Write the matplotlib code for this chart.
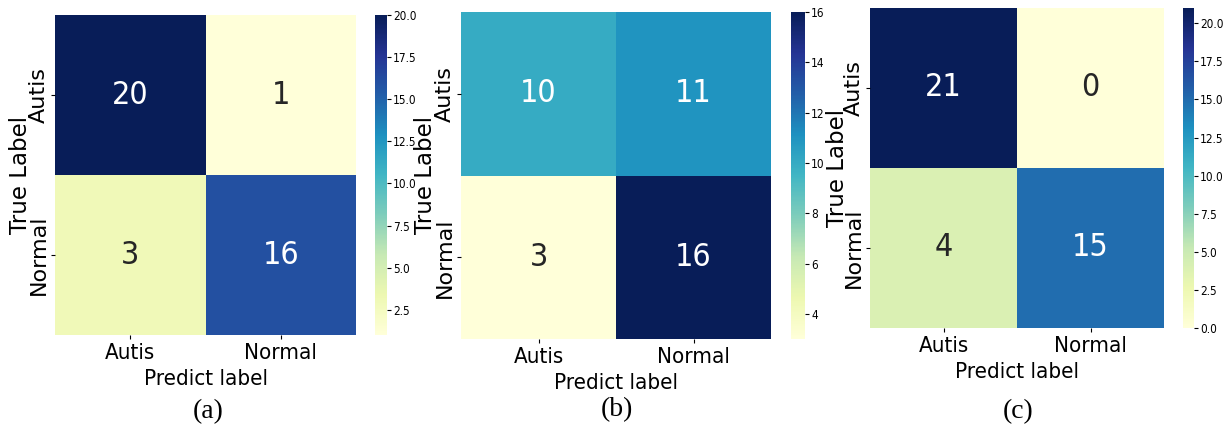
import numpy as np
import matplotlib
matplotlib.use('Agg')
import matplotlib.pyplot as plt
from matplotlib import font_manager as fm
import seaborn as sns

# confusion matrices for the three models
classes = ['Autis', 'Normal']
cm_a = [[20, 1], [3, 16]]
cm_b = [[10, 11], [3, 16]]
cm_c = [[21, 0], [4, 15]]
captions = ['(a)', '(b)', '(c)']

# the source image is squashed sideways, so look for a narrow font
cond = None
for want in ['DejaVu Sans', 'Liberation Sans Narrow', 'Roboto Condensed',
             'Open Sans Condensed']:
    for f in fm.fontManager.ttflist:
        if f.name != want or f.style != 'normal':
            continue
        if f.weight not in (400, 'normal', 'regular'):
            continue
        if want == 'DejaVu Sans' and 'condensed' not in str(f.stretch):
            continue
        cond = f.fname
        break
    if cond:
        break

def fp(size):
    if cond:
        return fm.FontProperties(fname=cond, size=size)
    return fm.FontProperties(family='DejaVu Sans', size=size)

W, H = 1227, 433
fig = plt.figure(figsize=(W / 100, H / 100), dpi=100)

def px(l, t, r, b):
    # pixel box -> figure fraction
    return [l / W, (H - b) / H, (r - l) / W, (b - t) / H]

# heatmap box, colorbar box, caption centre, ylabel x (pixels)
boxes = [
    ((55, 15, 356, 335), (375, 15, 387, 335), (208, 412), 32),
    ((461, 12, 771, 339), (791, 12, 805, 339), (617, 410), 437),
    ((870, 8, 1164, 328), (1183, 8, 1194, 328), (1018, 412), 849),
]

for cm, cap, (hb, cb, cc, ylx) in zip([cm_a, cm_b, cm_c], captions, boxes):
    ax = fig.add_axes(px(*hb))
    cax = fig.add_axes(px(*cb))
    sns.heatmap(np.array(cm), annot=True, fmt='d', cmap='YlGnBu', ax=ax,
                cbar_ax=cax, annot_kws={'fontproperties': fp(23)},
                xticklabels=classes, yticklabels=classes)
    ax.set_xticklabels(classes, fontproperties=fp(16))
    ax.set_yticklabels(classes, fontsize=16, rotation=90, va='center',
                       family='DejaVu Sans')
    ax.tick_params(axis='x', length=3, pad=3)
    ax.tick_params(axis='y', length=3, pad=1.5)
    ax.set_xlabel('Predict label', fontproperties=fp(16), labelpad=4)
    ax.set_ylabel('True Label', fontsize=16.5, family='DejaVu Sans')
    ax.yaxis.set_label_coords((ylx - hb[0]) / (hb[2] - hb[0]), 0.5)
    cax.tick_params(length=3, pad=1.5)
    for t in cax.get_yticklabels():
        t.set_fontproperties(fp(8.5))
    fig.text(cc[0] / W, (H - cc[1]) / H, cap, ha='center', va='center',
             fontsize=20, family='Liberation Serif')

fig.savefig('out.png', dpi=100)
